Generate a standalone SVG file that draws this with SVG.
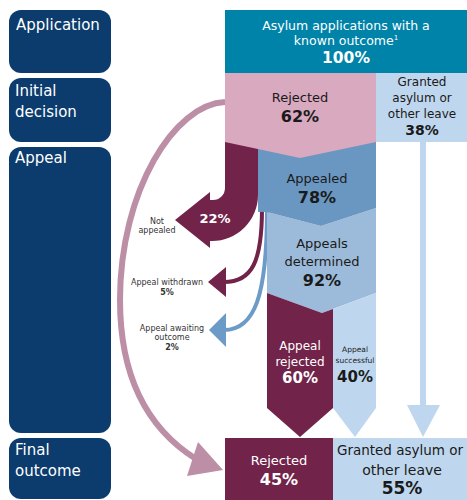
<svg xmlns="http://www.w3.org/2000/svg" width="467" height="500" viewBox="0 0 467 500">
<style>
.stage{fill:#0B3C6D}
.st{font-family:"DejaVu Sans",Verdana,sans-serif;font-size:15px;fill:#fff}
.t{font-family:"DejaVu Sans",Verdana,sans-serif;text-anchor:middle}
.b{font-weight:bold}
.dk{fill:#1a1a1a}
.wh{fill:#fff}
.sm{font-family:"DejaVu Sans",Verdana,sans-serif;text-anchor:middle;font-size:8px;fill:#333}
</style>
<rect width="467" height="500" fill="#fff"/>
<g id="stage-application"><rect class="stage" x="9" y="10" width="102" height="63" rx="12"/><text class="st" x="16" y="30">Application</text></g>
<g id="stage-initial"><rect class="stage" x="9" y="78" width="102" height="64" rx="12"/><text class="st" x="15" y="96">Initial</text><text class="st" x="15" y="117">decision</text></g>
<g id="stage-appeal"><rect class="stage" x="9" y="147" width="102" height="286" rx="12"/><text class="st" x="15" y="163">Appeal</text></g>
<g id="stage-final"><rect class="stage" x="9" y="438" width="102" height="61" rx="12"/><text class="st" x="15" y="455">Final</text><text class="st" x="15" y="476">outcome</text></g>

<g id="connectors">
<path d="M225,102 C175,104 120,190 120,300 C120,380 150,430 196,459" fill="none" stroke="#BC8FA6" stroke-width="6"/>
<polygon points="223,470 198,442 187,476" fill="#BC8FA6"/>
<path d="M262,208 C262,262 252,282 224,282" fill="none" stroke="#72234A" stroke-width="4"/>
<polygon points="226,267 208,282 226,297" fill="#72234A"/>
<path d="M267,210 C267,295 255,330 224,330" fill="none" stroke="#6D9BC8" stroke-width="4"/>
<polygon points="226,313 209,330 226,347" fill="#6D9BC8"/>
<rect x="420" y="140" width="6" height="267" fill="#BFD7EE"/>
<polygon points="407,405 440,405 423,437" fill="#BFD7EE"/>
</g>

<g id="not-appealed">
<path d="M225,142 L258,142 L258,195 A46,46 0 0 1 212,241 L210,241 L210,248 L175,220 L210,192 L210,200 L213,200 A12,12 0 0 0 225,188 Z" fill="#72234A"/>
<text class="t b wh" x="215" y="223" font-size="13">22%</text>
<text class="sm" x="157" y="224">Not</text>
<text class="sm" x="157" y="233">appealed</text>
</g>

<g id="appeals-determined">
<polygon points="267,212 321,226 376,208 376,293 322,313 267,293" fill="#9CBAD9"/>
<text class="t dk" x="322" y="248" font-size="13">Appeals</text>
<text class="t dk" x="322" y="266" font-size="13">determined</text>
<text class="t b dk" x="322" y="286" font-size="16">92%</text>
</g>

<g id="appealed">
<polygon points="258,142 376,142 376,208 321,226 267,212 258,212" fill="#6A97C2"/>
<text class="t dk" x="317" y="183" font-size="13">Appealed</text>
<text class="t b dk" x="317" y="203" font-size="16">78%</text>
</g>

<g id="application">
<rect x="225" y="10" width="242" height="63" fill="#0083A9"/>
<text class="t wh" x="346" y="30" font-size="12.5">Asylum applications with a</text>
<text class="t wh" x="346" y="45" font-size="12.5">known outcome<tspan font-size="7" dy="-5">1</tspan></text>
<text class="t b wh" x="346" y="63" font-size="15.5">100%</text>
</g>

<g id="initial-rejected">
<polygon points="225,73 376,73 376,142 300,158 225,142" fill="#D8A9BF"/>
<text class="t dk" x="300" y="102" font-size="13">Rejected</text>
<text class="t b dk" x="300" y="122" font-size="16">62%</text>
</g>

<g id="initial-granted">
<rect x="376" y="73" width="91" height="69" fill="#BFD7EE"/>
<text class="t dk" x="422" y="86" font-size="12">Granted</text>
<text class="t dk" x="422" y="102" font-size="12">asylum or</text>
<text class="t dk" x="422" y="118" font-size="12">other leave</text>
<text class="t b dk" x="422" y="135" font-size="14">38%</text>
</g>

<g id="appeal-rejected">
<polygon points="267,293 322,313 333,309 333,408 300,437 267,408" fill="#72234A"/>
<text class="t wh" x="300" y="350" font-size="12">Appeal</text>
<text class="t wh" x="300" y="366" font-size="12">rejected</text>
<text class="t b wh" x="300" y="383" font-size="15">60%</text>
</g>

<g id="appeal-successful">
<polygon points="333,309 376,293 376,408 355,437 333,408" fill="#BFD7EE"/>
<text class="t dk" x="355" y="352" font-size="7.5">Appeal</text>
<text class="t dk" x="355" y="363" font-size="7.5">successful</text>
<text class="t b dk" x="355" y="382" font-size="15">40%</text>
</g>

<g id="final-rejected">
<rect x="225" y="438" width="108" height="62" fill="#72234A"/>
<text class="t wh" x="279" y="465" font-size="13">Rejected</text>
<text class="t b wh" x="279" y="485" font-size="16">45%</text>
</g>

<g id="final-granted">
<rect x="333" y="438" width="134" height="62" fill="#BFD7EE"/>
<text class="t dk" x="400" y="455" font-size="13.5">Granted asylum or</text>
<text class="t dk" x="402" y="475" font-size="14">other leave</text>
<text class="t b dk" x="402" y="494" font-size="17">55%</text>
</g>

<g id="withdrawn-label">
<text class="sm" x="167" y="285">Appeal withdrawn</text>
<text class="sm b" x="167" y="295" font-size="9">5%</text>
</g>
<g id="awaiting-label">
<text class="sm" x="172" y="331">Appeal awaiting</text>
<text class="sm" x="172" y="340">outcome</text>
<text class="sm b" x="172" y="350" font-size="9">2%</text>
</g>
</svg>
